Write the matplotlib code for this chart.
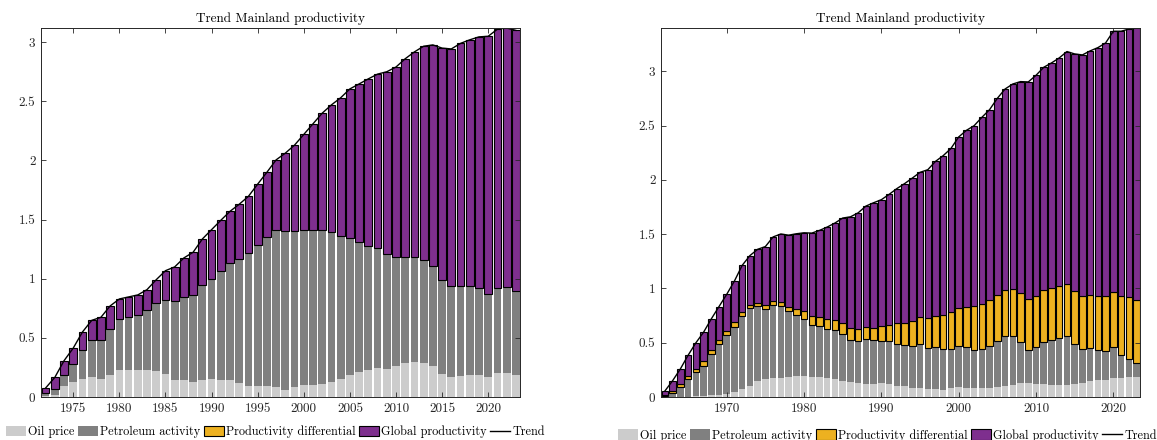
import matplotlib
matplotlib.use("Agg")
import matplotlib.pyplot as plt
import numpy as np
from matplotlib.patches import Patch
from matplotlib.lines import Line2D
from matplotlib.ticker import FuncFormatter, MultipleLocator

plt.rcParams['font.family'] = 'serif'
plt.rcParams['font.serif'] = ['cmr10', 'DejaVu Serif']
plt.rcParams['mathtext.fontset'] = 'cm'
plt.rcParams['axes.formatter.use_mathtext'] = True

# ---------------- data: left panel ----------------
years_left = list(range(1972, 2024))
oil_left = [0.010, 0.020, 0.096, 0.124, 0.152, 0.172, 0.155, 0.190, 0.226, 0.226,
            0.226, 0.226, 0.217, 0.197, 0.141, 0.141, 0.130, 0.141, 0.155, 0.144,
            0.141, 0.118, 0.096, 0.090, 0.090, 0.082, 0.060, 0.082, 0.104, 0.099,
            0.113, 0.130, 0.152, 0.190, 0.209, 0.228, 0.248, 0.240, 0.259, 0.288,
            0.293, 0.290, 0.265, 0.197, 0.170, 0.175, 0.190, 0.190, 0.172, 0.200,
            0.206, 0.183]
petro_left = [0.024, 0.050, 0.094, 0.156, 0.248, 0.308, 0.325, 0.388, 0.434, 0.448,
              0.470, 0.513, 0.578, 0.626, 0.668, 0.705, 0.730, 0.809, 0.843, 0.919,
              0.992, 1.052, 1.122, 1.193, 1.263, 1.333, 1.345, 1.325, 1.311, 1.316,
              1.302, 1.265, 1.207, 1.155, 1.101, 1.052, 1.012, 0.972, 0.928, 0.899,
              0.891, 0.870, 0.840, 0.795, 0.770, 0.765, 0.750, 0.729, 0.702, 0.720,
              0.724, 0.711]
glob_left = [0.042, 0.096, 0.117, 0.134, 0.150, 0.168, 0.194, 0.192, 0.169, 0.172,
             0.167, 0.169, 0.197, 0.245, 0.291, 0.330, 0.364, 0.386, 0.417, 0.431,
             0.437, 0.460, 0.479, 0.517, 0.547, 0.590, 0.657, 0.723, 0.805, 0.895,
             0.985, 1.075, 1.171, 1.260, 1.337, 1.410, 1.470, 1.538, 1.603, 1.673,
             1.734, 1.806, 1.872, 1.958, 2.003, 2.050, 2.080, 2.126, 2.176, 2.190,
             2.190, 2.206]

# ---------------- data: right panel ----------------
years_right = list(range(1962, 2024))
oil_right = [0.000, 0.000, 0.000, 0.000, 0.005, 0.010, 0.015, 0.020, 0.030, 0.050,
             0.075, 0.105, 0.150, 0.165, 0.175, 0.175, 0.182, 0.196, 0.190, 0.184,
             0.181, 0.172, 0.166, 0.150, 0.135, 0.132, 0.120, 0.120, 0.126, 0.117,
             0.104, 0.098, 0.083, 0.083, 0.074, 0.074, 0.067, 0.083, 0.092, 0.083,
             0.083, 0.083, 0.083, 0.092, 0.104, 0.113, 0.125, 0.129, 0.123, 0.120,
             0.114, 0.114, 0.114, 0.120, 0.129, 0.144, 0.160, 0.160, 0.172, 0.175,
             0.181, 0.181]
petro_right = [0.005, 0.040, 0.095, 0.166, 0.225, 0.279, 0.378, 0.468, 0.538, 0.598,
               0.672, 0.712, 0.686, 0.646, 0.676, 0.664, 0.606, 0.562, 0.531, 0.476,
               0.469, 0.458, 0.448, 0.427, 0.386, 0.384, 0.414, 0.401, 0.393, 0.402,
               0.384, 0.378, 0.387, 0.402, 0.377, 0.383, 0.375, 0.362, 0.381, 0.374,
               0.353, 0.359, 0.384, 0.421, 0.455, 0.446, 0.380, 0.307, 0.334, 0.390,
               0.408, 0.429, 0.445, 0.371, 0.313, 0.307, 0.276, 0.267, 0.285, 0.209,
               0.172, 0.132]
diff_right = [0.010, 0.015, 0.025, 0.031, 0.031, 0.046, 0.043, 0.037, 0.037, 0.040,
              0.036, 0.031, 0.030, 0.040, 0.031, 0.033, 0.042, 0.055, 0.071, 0.083,
              0.087, 0.091, 0.095, 0.107, 0.111, 0.107, 0.107, 0.117, 0.137, 0.147,
              0.193, 0.209, 0.233, 0.252, 0.274, 0.292, 0.316, 0.335, 0.347, 0.375,
              0.399, 0.418, 0.423, 0.430, 0.430, 0.436, 0.455, 0.467, 0.476, 0.473,
              0.478, 0.477, 0.478, 0.482, 0.491, 0.485, 0.494, 0.503, 0.510, 0.546,
              0.565, 0.577]
glob_right = [0.040, 0.095, 0.138, 0.187, 0.237, 0.261, 0.283, 0.308, 0.341, 0.381,
              0.430, 0.455, 0.495, 0.535, 0.593, 0.630, 0.661, 0.691, 0.721, 0.767,
              0.798, 0.845, 0.894, 0.965, 1.028, 1.074, 1.118, 1.152, 1.162, 1.201,
              1.239, 1.281, 1.314, 1.333, 1.369, 1.422, 1.466, 1.510, 1.576, 1.625,
              1.665, 1.717, 1.758, 1.809, 1.849, 1.889, 1.946, 2.000, 2.031, 2.055,
              2.078, 2.104, 2.146, 2.188, 2.219, 2.253, 2.289, 2.332, 2.403, 2.440,
              2.472, 2.510]

title = "Trend Mainland productivity"
labels = ["Oil price", "Petroleum activity", "Productivity differential",
          "Global productivity", "Trend"]

C_OIL = '#cccccc'
C_PET = '#808080'
C_DIF = '#EDB120'
C_GLO = '#7E2F8E'
AXC = '#262626'

W = 0.84
EW = 0.8

fig = plt.figure(figsize=(11.57, 4.40), dpi=100)
axL = fig.add_axes([41/1157, 1-397/440, 479/1157, 369/440])
axR = fig.add_axes([661/1157, 1-397/440, 479/1157, 369/440])


def style(ax, xlim, ylim, xstep):
    ax.set_xlim(*xlim)
    ax.set_ylim(*ylim)
    ax.xaxis.set_major_locator(MultipleLocator(xstep))
    ax.yaxis.set_major_locator(MultipleLocator(0.5))
    ax.yaxis.set_major_formatter(FuncFormatter(lambda v, p: '%g' % v))
    ax.xaxis.set_major_formatter(FuncFormatter(lambda v, p: '%d' % v))
    ax.tick_params(direction='in', top=True, right=True, length=3.5, width=0.6,
                   colors=AXC, labelsize=9.5, pad=4)
    for s in ax.spines.values():
        s.set_color(AXC)
        s.set_linewidth(0.7)
    ax.set_title(title, fontsize=9.5, pad=4, color='black')


def legend(ax, xc, yc):
    handles = [Patch(facecolor=C_OIL, edgecolor='none'),
               Patch(facecolor=C_PET, edgecolor='none'),
               Patch(facecolor=C_DIF, edgecolor='black', linewidth=EW),
               Patch(facecolor=C_GLO, edgecolor='black', linewidth=EW),
               Line2D([], [], color='black', lw=1)]
    ax.legend(handles, labels, loc='center', bbox_to_anchor=(xc, yc), ncol=5,
              frameon=False, fontsize=8.8, handlelength=1.64, handleheight=0.9,
              handletextpad=0.15, columnspacing=0.3, borderaxespad=0, borderpad=0)


# left panel
yl = np.array(years_left)
o = np.array(oil_left); p = np.array(petro_left); g = np.array(glob_left)
axL.bar(yl, o, width=W, color=C_OIL, edgecolor='none')
axL.bar(yl, p, width=W, bottom=o, color=C_PET, edgecolor='none')
axL.bar(yl, g, width=W, bottom=o + p, color=C_GLO, edgecolor='black', linewidth=EW)
axL.plot(yl, o + p + g, color='black', lw=1.0)
style(axL, (1971.5, 2023.45), (0, 3.12), 5)
legend(axL, 0.4896, -0.095)

# right panel
yr = np.array(years_right)
o = np.array(oil_right); p = np.array(petro_right)
d = np.array(diff_right); g = np.array(glob_right)
axR.bar(yr, o, width=W, color=C_OIL, edgecolor='none')
axR.bar(yr, p, width=W, bottom=o, color=C_PET, edgecolor='none')
axR.bar(yr, d, width=W, bottom=o + p, color=C_DIF, edgecolor='black', linewidth=EW)
axR.bar(yr, g, width=W, bottom=o + p + d, color=C_GLO, edgecolor='black', linewidth=EW)
axR.plot(yr, o + p + d + g, color='black', lw=1.0)
style(axR, (1961.5, 2023.45), (0, 3.4), 10)
legend(axR, 0.473, -0.104)

fig.savefig('out.png', dpi=100)
